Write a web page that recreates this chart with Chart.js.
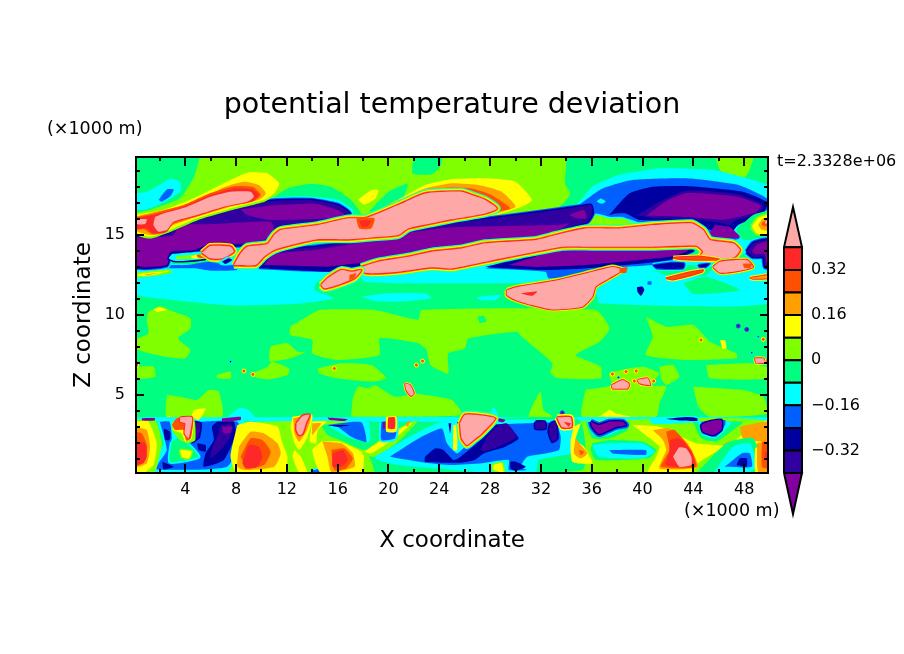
<!DOCTYPE html>
<html>
<head>
<meta charset="utf-8">
<script src="https://cdn.jsdelivr.net/npm/chart.js@4"></script>
<style>
  html, body { margin: 0; background: #fff; }
  canvas { position: absolute; left: 0; top: 0; }
</style>
</head>
<body>
<canvas id="field" width="904" height="654"></canvas>
<canvas id="bar" width="904" height="654"></canvas>
<script>
// axes
var xTickLabels = [4, 8, 12, 16, 20, 24, 28, 32, 36, 40, 44, 48];
var xTickMarks = [2, 4, 6, 8, 10, 12, 14, 16, 18, 20, 22, 24, 26, 28, 30, 32, 34, 36, 38, 40, 42, 44, 46, 48];
var zTickLabels = [5, 10, 15];
var zTickMarks = [1, 2, 3, 4, 5, 6, 7, 8, 9, 10, 11, 12, 13, 14, 15, 16, 17, 18, 19];
var xRange = [0.125, 49.875];
var zRange = [0.125, 19.875];

// colour bar
var levelEdges = [-0.4, -0.32, -0.24, -0.16, -0.08, 0, 0.08, 0.16, 0.24, 0.32, 0.4];
var levelColours = ["#3000a0", "#0000a0", "#0060ff", "#00ffff", "#00ff80", "#80ff00", "#ffff00", "#ffa000", "#ff5000", "#ff2828"];
var barTicks = [0.32, 0.16, 0, -0.16, -0.32];
var barTickLabels = ["0.32", "0.16", "0", "\u22120.16", "\u22120.32"];
var barTips = [0.543, -0.545];

var PINK = "#ffa8a8", RED = "#ff2828", ORR = "#ff5000", ORG = "#ffa000", YEL = "#ffff00", LIM = "#80ff00";
var SPR = "#00ff80", CYA = "#00ffff", BLU = "#0060ff", NAV = "#0000a0", IND = "#3000a0", VIO = "#8000a0";

// contour outlines, [x km, z km]
// upper troposphere, background
var limeTop = [[5.2,20],[4.7,18.64],[3.6,17.3],[1.2,16.56],[0,16.25],[0,15],[32.9,15],[32.9,16.35],[33.9,17.08],[34.3,17.6],[33.9,18.2],[33.8,20]];
var springNotch = [[22,20],[21.9,18.85],[23.4,18.8],[24.1,19.3],[24.2,20]];
var springWedge = [[18.5,16.5],[20,17.7],[21.5,18.2],[21.2,17.4],[20.2,17],[18.65,16.35]];
var yellowBlob = [[17.6,17.2],[18.65,17.8],[19.2,17.8],[19,17.3],[18.1,16.9]];
var springArch = [[10.1,16.87],[12.05,17.9],[13.9,18.2],[15.5,18],[17.05,17.2],[17.85,16.25],[16,15.9],[10.2,15.8]];
var cyanArch = [[10.2,17],[13.1,17.4],[16,17.2],[17.2,16.56],[17.05,16.15],[10.2,15.9]];
var blueArch = [[10.7,17],[13.1,17.33],[16,17.08],[17.05,16.45],[16.8,16.15],[10.7,15.9]];
var cyanCorner = [[0,17.6],[1,17.7],[2.8,18.5],[3.6,18.33],[3.6,17.7],[1.9,16.87],[0.7,16.56],[0,16.66]];
var blueCorner = [[1.9,17.2],[2.55,17.85],[3.1,17.85],[2.8,17.4],[2.15,17.08]];
var limeRightTop = [[45.7,20],[46.1,19.06],[47.4,18.27],[48.3,18.85],[48.7,20]];

// mid troposphere lime patches
var limeA = [[1.1,10.2],[2,10.55],[3.1,10.2],[4.4,9.8],[4.4,9.16],[3.5,8.64],[3.5,8.43],[4.4,7.81],[4,7.3],[2.3,7.4],[0,7.9],[0,8.44],[1.1,8.85],[0.97,9.7]];
var limeB = [[0,6.77],[1.5,6.77],[1.63,6.14],[0,6.04]];
var limeC = [[12.26,9.27],[13.37,9.79],[14.56,10.31],[18.9,10.31],[22.34,9.7],[22.6,10.31],[36.3,10.31],[37.4,9.16],[36.6,8.33],[34.74,7.5],[36.7,6.77],[36.7,6.04],[33.4,6.04],[32.76,6.35],[32.9,6.98],[30.5,8.64],[30.1,8.96],[26.3,8.54],[26,7.91],[24.7,7.6],[24.7,6.35],[23.3,6.87],[23,7.81],[22.34,8.23],[19.3,8.54],[19.3,7.5],[16,7.19],[14,7.6],[14,8.44],[12.26,8.75]];
var limeD = [[10.6,7.19],[10.73,8.02],[12.05,8.23],[12.84,7.7],[13.5,7.7],[12.3,7.29],[10.73,7.08]];
var limeE = [[9.28,6.35],[10.47,6.77],[10.86,7.08],[12.18,6.66],[12.05,6.25],[10.47,5.98],[9.41,6.14]];
var limeF = [[6.5,6.25],[7.57,6.46],[7.57,6.04],[6.5,6.04]];
var limeG = [[14.43,6.66],[16.3,6.98],[18.65,6.87],[19.83,6.04],[18.65,5.83],[16,6.04],[14.56,6.35]];
var limeH = [[2.55,5],[3.6,4.89],[4.93,4.69],[5.85,5.31],[6.64,5.2],[6.9,3.64],[2.55,3.64]];
var limeI = [[17.06,3.64],[17.2,4.79],[17.6,5.52],[18.4,5.41],[18.9,5.62],[20.5,4.89],[22.1,5.1],[22.9,5],[25,4.69],[25.77,3.75]];
var limeJ = [[31,3.64],[31.3,4.27],[31.96,5.2],[32.2,4.06],[32.9,3.64]];
var limeK = [[35.5,5.31],[37.6,5.62],[37.37,6.35],[40,6.77],[41.33,6.35],[40.5,5.62],[41.86,5.52],[41.33,4.48],[41.07,3.64],[35.26,3.64]];
var limeL = [[41.33,6.77],[42.4,6.87],[42.9,6.14],[41.86,5.62],[41.46,6.04]];
var limeM = [[44,5.52],[47.9,5.31],[49.5,4.89],[49.9,3.85],[45.3,3.64],[44.4,4.27]];
var limeN = [[40.27,9.89],[41.86,9.27],[44,9.37],[45.3,8.33],[47.4,7.6],[47.4,7.29],[43.44,7.19],[40.27,7.5],[40.8,8.64]];
var limeO = [[45,6.87],[48.45,6.98],[50,6.66],[50,6.04],[45.3,6.04]];
var springHoleMid = [[27,9.9],[27.5,9.95],[27.7,9.6],[27.2,9.5]];
var yellowDotMid = [[1.5,10.35],[2,10.48],[2.55,10.31],[1.76,10.2]];
var yellowDashMid = [[46.1,8.44],[46.5,8.4],[46.6,7.9],[46.3,7.9]];

// cyan layer under the jets
var cyanLeft = [[0,13.2],[18,13],[17.6,12.4],[15.2,12.4],[14.3,12],[14.2,11.56],[15.7,11.04],[12.85,10.7],[7.57,10.6],[2.3,11],[0,11.35]];
var cyanRight = [[17.6,12.91],[50,13.4],[50,10.73],[36.6,10.73],[36.3,11.35],[34,11.98],[29.5,11.98],[25,11.98],[18.1,12.08]];
var cyanLensA = [[17.86,11.14],[19.7,11.35],[22.9,11.35],[23.4,11.04],[20.76,10.83],[18.9,10.87]];
var cyanLensB = [[26.95,11.14],[28.9,11.25],[28.4,10.94],[27.2,10.94]];
var springLens = [[43.2,11.98],[45,12.39],[47.66,11.56],[44,11.31]];

// cold dome at the top right
var cyanDome = [[33.7,16.14],[34.9,16.98],[36.05,18.02],[38.15,18.75],[41.33,19.16],[45.55,19.06],[48.2,18.54],[50,18.02],[50,16.45],[48.2,16.04],[47.4,15.3],[47.9,14.7],[50,14.8],[50,13.5],[45.5,14.3],[38.2,15.1],[33.7,15.1]];
var blueDome = [[34.07,16.25],[35,16.87],[36.84,17.9],[39.2,18.44],[43.44,18.54],[47.66,18.1],[50,17.19],[50,16.66],[47.9,15.83],[46.87,15.1],[47.66,14.79],[45.8,14.48],[38.2,15.5],[35.5,15.83]];
var cyanSpot = [[36.7,17.3],[37.1,17.1],[36.8,16.95],[36.4,17.1]];
var navyDome = [[37.37,16.25],[38.95,17.6],[40.8,18.02],[43.44,18.06],[47.9,17.7],[49.9,16.98],[49.4,16.25],[47.5,15.62],[46.87,15],[45,15.41],[43.7,15.83],[39.75,15.94],[38.7,16.35],[37.9,16.35]];
var indigoDome = [[39.6,16.25],[41.6,17.19],[43.44,17.77],[47.4,17.56],[49.5,16.87],[49.1,16.35],[47.4,15.94],[46.87,15.62],[46.1,15.77],[43.44,15.98],[40.8,16.04]];
var violetDome = [[40.3,16.2],[41.8,17.1],[43.5,17.62],[47.3,17.42],[49.3,16.85],[48.9,16.4],[47.3,16.08],[46.2,15.95],[43.4,16.12]];
var violetNook = [[45.7,15.62],[46.9,15.48],[47.66,14.85],[45.8,14.79],[45.3,15.1]];
var limeFringe = [[35,15.5],[36.3,16.25],[37.4,16.04],[38.4,16.04],[39.75,15.69],[43.44,15.9],[44.5,15.5],[43.44,14.9],[35.5,14.9]];
var springEdge = [[47.4,15.31],[48.7,16.25],[50,16.45],[50,14.8],[48.2,14.7]];
var yellowEdge = [[48.6,15.52],[49.1,16.04],[50,16.25],[50,15.1],[49,15.1]];
var orangeEdge = [[49.1,15.62],[49.5,16.04],[50,16.04],[50,15.31],[49.4,15.31]];
var redEdge = [[49.4,15.77],[49.9,15.94],[50,15.94],[50,15.5],[49.4,15.62]];
var pinkEdge = [[49.65,15.85],[50,15.95],[50,15.7],[49.65,15.72]];
var indigoEdge = [[48.2,13.95],[48.7,14.48],[50,14.69],[50,13],[49.65,13],[49.5,13.64],[48.7,13.64]];
var violetEdge = [[48.6,13.95],[49,14.4],[50,14.6],[50,13.1],[49.8,13.1],[49.6,13.8],[48.9,13.8]];
var warmEdgeLow = [[48.45,12.32],[49.9,12.5],[50,12.55],[50,12.32],[48.7,12.26]];

// cold band between the jets
var blueLeftSkirt = [[0,13.06],[2.8,13.12],[4.1,13.12],[5.85,13.33],[7.3,13.12],[7.8,13.12],[8.1,12.81],[5.98,12.77],[4.93,12.91],[2.3,12.91],[0,12.91]];
var indigoUpper = [[0,14.93],[1.23,14.89],[2.82,15.1],[3.21,15.56],[5.19,16.04],[8.09,16.77],[10.99,17.14],[13.9,17.18],[16,16.87],[16.93,16.35],[16,16],[12.3,15.56],[11.26,15.31],[10.6,14.69],[8.62,14.37],[5.72,14.37],[4.66,13.96],[2.82,13.85],[2.55,13.12],[0,13.02]];
var violetUpper = [[0,14.85],[1.37,14.85],[3.08,15],[3.6,15.62],[6.2,15.68],[10.73,15.83],[11,15.4],[10.6,14.79],[8.62,14.48],[5.72,14.37],[4.66,14.06],[2.82,13.96],[2.55,13.12],[0,13.12]];
var violetCap = [[8.36,16.6],[11.26,16.87],[14.43,16.94],[16,16.56],[16.54,16.29],[15.5,16.04],[10.73,15.94],[8.88,16.25]];
var indigoMiddle = [[9.8,13.02],[10.86,13.95],[14.43,14.27],[18.12,14.69],[21.55,15.31],[24.98,15.73],[30.25,16.25],[35,16.77],[35.93,16.87],[36.06,16.35],[35.64,15.83],[33.95,15.41],[32.6,14.85],[27.62,14.58],[24.98,14.16],[20.76,13.54],[17.86,13.06],[15.2,12.85],[12.3,12.91]];
var violetMiddle = [[10.2,13.12],[11,13.81],[14.43,14.1],[18.12,14.58],[21.55,15.14],[24.98,15.48],[33.2,15.62],[34.25,15.73],[32.6,15],[27.62,14.64],[24.98,14.23],[20.76,13.64],[17.86,13.19],[15.2,12.91]];
var violetNub = [[34.2,16.25],[35.4,16.56],[35.6,16.04],[34.8,16.04]];
var navyMiddleStrip = [[9.8,12.98],[15.2,12.7],[17.86,12.91],[17.86,13.23],[15.2,13.02],[10.2,13.12]];
var blueLower = [[27.6,12.91],[32.35,12.7],[32.6,12.29],[34.07,12.35],[37.1,12.91],[40.8,13.12],[42.1,13.33],[44.1,13.96],[44,14.27],[38.2,14.27],[33.7,14.27],[30.25,13.64]];
var navyLower = [[27.6,13],[32.1,12.81],[35.5,12.91],[38.7,13.12],[42.1,13.44],[44,13.96],[44,14.27],[38.2,14.23],[33.7,14.16],[30.25,13.48]];
var violetLower = [[29.45,13.12],[33.4,14.06],[36.05,14.16],[40.8,14.2],[43.84,14.31],[43.44,13.96],[42.1,13.64],[35.5,13.12],[31.57,13]];
var springPocket = [[40.8,12.81],[43.44,13.12],[45.55,13],[45,12.5],[41.85,12.5]];
var navyPatchA = [[40.8,13.12],[42.1,13.27],[43.3,13.23],[43.2,12.91],[41.1,12.91]];
var navyPatchB = [[44.36,13.12],[45.3,13.23],[45,13],[44.5,12.98]];
var navySpeck = [[39.56,11.73],[40,11.77],[40.14,11.56],[39.88,11.2],[39.6,11.46]];
var blueSpeck = [[40.4,12.1],[40.7,12.1],[40.7,11.9],[40.4,11.9]];

// warm jets
var yellowTongue = [[0,16.25],[2.29,16.56],[4.93,17.39],[7.04,18.23],[8.88,18.89],[10.47,18.85],[11.4,18.23],[11,17.6],[10.2,17.2],[7.57,16.66],[4.93,16.04],[3.08,15.41],[1.23,14.9],[0,15.2]];
var orangeTongue = [[0,16.14],[2.29,16.56],[4.93,17.08],[7.04,17.98],[8.62,18.33],[9.8,18.12],[10.34,17.6],[9.8,17.2],[7.57,16.77],[4.93,16.14],[3.08,15.62],[2.29,15.1],[1.23,15],[0,15.31]];
var orangeRedTongue = [[0,16.1],[1.5,16.35],[3.87,16.87],[5.98,17.62],[7.83,18.05],[9.35,18],[9.95,17.5],[9.4,17.12],[7.3,16.77],[4.93,16.17],[3.08,15.7],[2.4,15.15],[1.4,15.05],[0.8,15.35],[0,15.35]];
var redTongue = [[0,16.04],[1.5,16.25],[3.87,16.77],[5.98,17.5],[7.83,17.91],[9.28,17.85],[9.8,17.5],[9.28,17.08],[7.3,16.77],[4.93,16.19],[3.08,15.77],[2.55,15.2],[1.5,15.1],[0.97,15.41],[0,15.41]];
var pinkTongue = [[1.63,16.14],[2.29,16.35],[4.14,16.77],[5.98,17.39],[7.57,17.71],[9.15,17.71],[9.41,17.39],[8.88,17.08],[7.04,16.77],[4.93,16.25],[3.08,15.83],[2.55,15.31],[1.89,15.21],[1.5,15.62]];
var pinkTongueEdge = [[0,15.98],[0.97,15.98],[0.84,15.69],[0,15.69]];
var yellowCrest = [[18.9,16.4],[20.76,17.19],[22.9,18.12],[24.97,18.48],[27.6,18.54],[30,18.33],[31.3,17.19],[30.4,16.73],[28.4,16.25],[24.97,15.9],[22,15.6],[19,16]];
var orangeCrest = [[19.7,16.77],[22.9,17.9],[24.97,18.23],[27.1,18.12],[28.9,17.7],[30,16.77],[28.4,16.35],[24.97,16],[20,16.2]];
var orangeRedCrest = [[20.76,16.98],[22.9,17.77],[24.97,17.98],[26.55,17.9],[28.1,17.5],[29.6,16.66],[27.9,16.4],[24.97,16],[22,16.4]];
var pinkRibbonUpper = [[7.83,13.12],[8.36,13.85],[8.88,14.27],[10.47,14.44],[11,15],[11.52,15.31],[14.43,15.62],[16.8,16.04],[18.12,16.04],[18.9,16.25],[20.76,16.87],[22.9,17.6],[25.77,17.71],[26.56,17.5],[27.62,17.19],[28.54,16.66],[27.62,16.35],[24.98,15.98],[23.4,15.73],[21.55,15.41],[20.76,15],[18.65,14.85],[16.8,14.73],[14.43,14.73],[12.3,14.37],[11,14.06],[10.2,13.64],[9.54,13.12]];
var orangeRedKnot = [[17.46,16.04],[18.9,16.04],[18.65,15.41],[17.7,15.41]];
var redKnot = [[17.7,15.9],[18.6,15.9],[18.4,15.55],[17.9,15.5]];
var pinkRibbonLower = [[17.86,13],[19.17,13.33],[21.55,13.64],[23.4,13.96],[25.77,14.16],[27.62,14.48],[31.6,14.69],[33.16,15],[35.5,15.41],[38.2,15.41],[40.8,15.62],[43.85,15.73],[44.77,15.31],[45.3,14.69],[47.14,14.48],[47.67,14.06],[47.27,13.64],[46.1,13.44],[44.5,13.6],[44.77,13.96],[44.24,14.33],[40.8,14.27],[36,14.27],[33.7,14.27],[30.26,13.75],[27.62,13.33],[24.98,12.91],[23.4,12.98],[20.76,12.7],[18.65,12.6],[17.86,12.7]];
var warmStrip = [[42.4,13.58],[44.5,13.66],[46.1,13.46],[44.6,13.45],[42.9,13.5]];
var pinkRightLobe = [[45.55,13],[46.1,13.33],[48.2,13.44],[48.7,13],[47.66,12.77],[46.1,12.64]];
var redRightLobe = [[47.9,13.2],[48.6,13.2],[48.5,12.95],[48,12.95]];
var warmStripLow = [[41.85,12.3],[43.97,12.7],[44.76,12.8],[44.63,12.68],[42.4,12.22]];
var pinkLeftLobe = [[14.7,11.87],[15.2,12.29],[16.3,12.81],[17.1,12.7],[17.86,12.81],[17.3,12.29],[16,11.87],[14.95,11.66]];
var orangeRedLobe = [[16.93,12.5],[17.46,12.6],[17.3,12.29],[16.93,12.19]];
var pinkHanging = [[29.32,11.56],[30.25,11.77],[33.4,12.19],[36.05,12.7],[37.63,13],[38.43,12.81],[37.37,12.29],[36.3,11.77],[36.05,11.14],[35.26,10.52],[32.9,10.35],[31.3,10.62],[30,10.94],[29.32,11.25]];
var redHanging = [[30.4,11.35],[31.7,11.46],[31.3,11.2]];
var orangeRedHanging = [[38.2,12.91],[38.8,13],[38.7,12.64],[38.2,12.64]];
var cyanOval = [[2.95,13.81],[4.27,13.9],[5.3,13.96],[5.6,13.54],[4.14,13.39],[3.08,13.39],[2.7,13.54]];
var limeOval = [[3.3,13.7],[4.5,13.75],[5.4,13.8],[5.5,13.55],[4.2,13.5],[3.3,13.5]];
var yellowOval = [[4.5,13.7],[5.4,13.8],[5.5,13.55],[4.5,13.55]];
var orangeOval = [[4.9,13.75],[5.5,13.8],[5.6,13.55],[5,13.6]];
var pinkLobe = [[5.32,13.89],[5.98,14.31],[7.57,14.27],[7.83,13.96],[6.9,13.54],[5.98,13.54]];
var cyanHole = [[6.64,13.33],[7.3,13.64],[7.83,13.54],[7.57,13.12],[6.77,13.12]];
var navyHole = [[6.9,13.33],[7.43,13.54],[7.7,13.44],[7.17,13.19]];
var limeLeftTail = [[0,12.64],[2.8,12.85],[2.95,12.64],[1.23,12.4],[0,12.35]];
var yellowLeftTail = [[0.3,12.56],[2.7,12.77],[1.5,12.5],[0.3,12.43]];
var orangeLeftTail = [[0.7,12.52],[1.9,12.64],[1,12.48]];

// isolated mid level cells
var pinkCellA = [[21.3,5.73],[21.7,5.62],[22,5.1],[21.76,4.94],[21.4,5.31]];
var pinkCellB = [[37.58,5.62],[38.43,5.94],[38.95,5.69],[38.82,5.41],[37.63,5.41]];
var pinkCellC = [[39.6,5.94],[40.4,6.04],[40.6,5.62],[39.75,5.73]];
var pinkCellD = [[48.85,7.29],[49.5,7.29],[49.64,7.02],[48.93,7.02]];
var pinkCellE = [[49.77,7.19],[50,7.19],[50,6.98],[49.77,6.98]];
var warmSpots = [[8.62,6.5],[9.33,6.29],[15.74,6.66],[22.2,6.87],[22.68,7.12],[0.18,6.87],[37.63,6.31],[38.7,6.46],[39.5,6.5],[39.35,5.87],[40.88,5.87],[44.6,8.44],[49.5,8.48],[36.63,3.52],[2.7,3.54],[3.16,3.08]];
var violetSpots = [[47.53,9.31],[48.2,9.1],[33.68,3.89]];
var blueSpots = [[49.1,8.64],[48.6,7.64],[38.1,6.1],[46.74,3.27],[7.57,7.08]];

// boundary layer
var cyanStrip = [[0,3.6],[50,3.6],[50,3.36],[0,3.36]];
var cyanBumpA = [[7.3,3.6],[8.3,4.2],[8.9,4.1],[9.5,3.6]];
var cyanBumpB = [[27.9,3.64],[28.27,4.27],[28.66,3.64]];
var yellowCapA = [[4.66,4.06],[5.6,4.16],[5.06,3.44],[4.53,3.64]];
var yellowCapB = [[36.6,3.64],[37.4,4.06],[37.9,3.85],[39.2,3.64]];
var limeLowLeft = [[0,3.44],[1.63,3.44],[2.16,1.98],[1.76,0.52],[1.5,0.1],[0,0.1]];
var yellowLowLeft = [[0,3.33],[1.1,3.33],[1.76,1.98],[1.5,0.62],[0.7,0.1],[0,0.1]];
var orangeLowLeft = [[0,3.02],[0.97,2.81],[1.23,1.77],[0.97,0.73],[0,0.5]];
var orangeRedLowLeft = [[0,2.7],[0.6,2.6],[1,1.8],[0.85,0.95],[0,0.6]];
var redLowLeft = [[0,2.08],[0.84,1.98],[0.97,1.14],[0.7,0.73],[0,0.6]];
var cyanBlockA = [[1.76,3.33],[8.62,3.44],[8.5,2.39],[7.7,0.62],[7.3,0.1],[1.5,0.1],[1.63,0.94],[2.3,1.98]];
var blueBlockA = [[2,3.33],[2.76,3.33],[2.95,2.29],[2.8,0.83],[4.14,0.94],[5.06,1.14],[4.66,1.56],[4.14,1.98],[4.66,3.23],[8.1,3.33],[8.36,2.39],[7.3,0.52],[1.76,0.35],[1.9,0.73],[2.55,1.56]];
var springPool = [[2.95,2.08],[3.6,2.39],[4.14,1.98],[4.66,1.56],[5.06,1.14],[4.14,0.94],[2.8,0.83]];
var yellowPool = [[3.6,1.56],[4.5,1.46],[4.27,1.04],[3.74,1.14]];
var limePlume = [[2.95,3.33],[4.66,3.54],[4.8,2.19],[4.27,1.98],[3.6,2.19],[2.95,2.81]];
var yellowPlume = [[3.03,3.23],[4.6,3.54],[4.53,2.29],[4,2.08],[3.74,2.6],[3.08,2.81]];
var orangeRedPlume = [[2.95,3.12],[3.34,3.54],[4.58,3.6],[4.45,2.29],[4.08,2.14],[3.87,2.81],[3.2,2.81]];
var pinkPlume = [[3.6,3.6],[4.53,3.6],[4.27,2.29],[3.95,2.6],[4,3.23],[3.6,3.33]];
var navyBlobA = [[2.3,2.91],[2.82,2.7],[2.76,2.19],[2.42,2.19]];
var navyBlobB = [[2.2,0.83],[3.08,0.52],[2.3,0.35]];
var indigoBlobC = [[4.53,3.33],[5.19,3.23],[5.06,2.39],[4.53,2.08]];
var navyBlobD = [[4.93,1.98],[5.6,1.87],[5.6,1.46],[5.06,1.56]];
var navyBig = [[6.5,3.33],[7.83,3.33],[7.96,2.5],[7.04,0.94],[5.45,0.52],[5.6,1.35],[6.25,2.19],[6.1,3.02]];
var indigoBig = [[6.77,3.12],[7.7,3.12],[7.57,2.39],[6.77,1.56],[5.98,1.04],[6.25,1.98],[6.64,2.6]];
var violetBig = [[6.9,3.02],[7.7,3.02],[7.57,2.64],[7.04,2.6]];
var violetDashA = [[0.6,3.55],[1.6,3.55],[1.6,3.4],[0.6,3.4]];
var violetDashB = [[15.2,3.6],[16.8,3.5],[16.5,3.37],[15.35,3.45]];
var violetDashC = [[6.9,3.54],[8.36,3.64],[8.36,3.44],[6.9,3.33]];
var limeBaseB = [[8.1,3.3],[17,3.3],[18,2],[18.8,0.1],[7.5,0.1],[8.36,2.4]];
var springRingC = [[14.7,3.12],[18.65,3.33],[18.9,2.39],[18.12,1.56],[16.54,2.08],[15.2,2.5]];
var cyanRingC = [[15.2,3.12],[18.4,3.33],[18.5,2.08],[17.06,2.29],[15.74,2.81]];
var blueRingC = [[15.2,3.12],[17.86,3.29],[18.25,2.08],[17.06,2.39],[16,3.02]];
var navyDashC = [[15.2,3.12],[17,3.12],[16,3]];
var yellowWarmB = [[8.1,3.12],[9.15,3.33],[11.26,3.02],[11.65,1.98],[12.05,1.14],[11.8,0.1],[8.1,0.1],[7.57,1.14]];
var orangeWarmB = [[8.23,1.77],[9.15,2.7],[10.2,2.6],[11.26,1.98],[11.52,1.35],[11,0.52],[8.75,0.31],[8.1,0.52]];
var orangeRedWarmB = [[8.36,1.14],[9.15,2.29],[10.07,2.19],[10.73,1.46],[10.2,0.62],[8.88,0.41]];
var redWarmB = [[8.5,0.73],[9,1.87],[9.8,1.77],[10.07,1.14],[9.68,0.52],[8.75,0.41]];
var yellowPlumeC = [[12.45,3.64],[14,3.75],[13.63,2.39],[12.97,1.56],[12.6,1.98],[12.3,3.02]];
var orangePlumeC = [[12.5,3.54],[13.9,3.75],[13.6,2.81],[12.97,2.08],[12.6,2.6]];
var pinkPlumeC = [[12.76,3.23],[13.24,3.69],[13.77,3.75],[13.5,3.23],[13.24,2.6],[12.97,2.5],[12.76,2.81]];
var yellowArch = [[14,3.33],[15.1,3.33],[14.43,2.81],[14.3,1.98],[13.8,2.1]];
var orangeArch = [[14,3.23],[14.7,3.23],[14,2.5]];
var yellowStem = [[12.6,1.56],[13.1,1.14],[13.63,0.1],[13,0.1],[12.45,1.14]];
var blueFoot = [[14,0.3],[14.6,0.35],[15,0.1],[13.9,0.1]];
var yellowWarmC = [[14.7,2.08],[16.14,2.08],[18,1.35],[17.86,0.1],[14.7,0.1],[14,1.56]];
var orangeWarmC = [[14.8,2.08],[16.3,1.98],[17.2,1.35],[17.33,0.52],[15.5,0.2],[15.2,1.14]];
var orangeRedWarmC = [[15.5,1.56],[16.54,1.66],[17.2,1.04],[16.67,0.41],[15.74,0.31]];
var redWarmC = [[15.6,1.35],[16.4,1.56],[16.8,0.94],[16.27,0.52],[15.6,0.52]];
var limeBaseE = [[33.6,3.35],[50,3.35],[50,0],[33.6,0]];
var springBasinD = [[18.12,1.35],[20.5,2.29],[22.08,3.12],[26,3.44],[35,3.44],[35.27,0.31],[27.1,0.1],[20.76,0.35]];
var limeDiagonal = [[17.86,1.31],[20.2,2.7],[22.34,3.44],[20.76,2.08],[18.9,1.14]];
var yellowDiagonal = [[18.12,1.46],[20.5,2.7],[21.95,3.33],[20.5,2.29],[18.65,1.35]];
var orangeDiagonal = [[21.3,3.12],[21.7,3.44],[21.55,3.02]];
var cyanBasinD = [[18.9,1.14],[21,2.08],[22.9,2.91],[24.2,3.33],[26,3.44],[34.2,3.33],[34.74,1.98],[34.35,1.35],[31.84,0.94],[31.57,0.1],[28.67,0.1],[24.7,0.35],[20.76,0.62],[19.18,0.94]];
var blueBasinD = [[20.1,1.14],[22.6,2.39],[24.2,2.91],[24.6,1.98],[25.4,1.35],[26.3,1.98],[27.62,2.6],[28.67,3.12],[31,3.23],[33.16,3.23],[33.56,2.39],[33.42,1.56],[32.37,1.35],[30.92,1.14],[30.4,0.52],[30.92,0.31],[29.47,0.31],[29.47,0.94],[27.35,0.73],[25,0.62],[22.87,0.77],[20.76,1.04]];
var navyBasinD = [[22.87,1.14],[23.66,1.66],[24.32,1.56],[25.1,0.94],[25.5,1.04],[27.08,2.08],[28.27,3.12],[29.2,3.12],[30.25,2.29],[29.2,1.77],[27.5,1.35],[26.8,0.94],[25.76,0.77],[24.45,0.77],[22.87,0.83]];
var indigoBasinD = [[27.2,1.56],[27.87,2.5],[28.66,3.12],[29.32,3.23],[30.1,2.39],[28.93,1.87],[27.6,1.46]];
var navyBlobE = [[29.6,0.83],[30,0.83],[30.8,0.52],[30,0.27],[29.6,0.41]];
var blueStack = [[19.44,3.33],[20.63,3.23],[20.5,2.29],[19.44,2.19]];
var navyStreakA = [[19.57,3.33],[19.83,3.33],[19.83,2.9],[19.57,2.9]];
var yellowStack = [[19.8,3.64],[20.63,3.64],[20.63,2.7],[19.83,2.7]];
var redStack = [[19.97,3.6],[20.5,3.6],[20.5,2.9],[19.97,2.9]];
var navyStreakB = [[24.72,3.23],[24.93,3.23],[24.85,2.6]];
var violetStreak = [[25.4,3.33],[25.65,3.33],[25.55,2.7]];
var yellowStreak = [[25.1,3.12],[25.4,3.12],[25.4,1.56],[25.1,1.56]];
var pinkBasin = [[25.63,3.23],[26,3.75],[26.95,3.75],[28.4,3.54],[27.35,2.6],[26.7,2.19],[26.16,1.87],[25.76,2.29]];
var indigoStubA = [[31.57,3.33],[32.3,3.33],[32.36,2.91],[31.57,2.91]];
var indigoStubB = [[32.75,3.23],[33.15,3.33],[33.28,2.29],[32.9,2.08],[32.62,2.7]];
var violetStub = [[28.66,3.54],[29.2,3.44],[29,3.3],[28.66,3.35]];
var yellowFoot = [[28.27,0.31],[28.27,0.62],[28.93,0.73],[29.06,0.1]];
var pinkPlumeD = [[33.28,3.6],[34.34,3.6],[34.4,3.02],[33.68,2.98]];
var redPlumeD = [[33.8,3.33],[34.34,3.23],[34.2,3.02]];
var yellowStripD = [[34.6,3.02],[35.13,3.23],[34.73,2.19],[35.4,1.77],[36.05,0.73],[34.47,0.83],[34.34,2.19]];
var orangeStripD = [[34.73,2.29],[35.13,1.87],[35.66,1.35],[35.13,1.04],[34.6,1.35]];
var orangeRedStripD = [[35,1.56],[35.4,1.46],[35.13,1.25]];
var springRingE = [[35.5,3.33],[38.95,3.33],[38.82,2.81],[37.37,2.29],[36.05,2.29]];
var cyanRingE = [[35.8,3.33],[38.82,3.33],[38.56,2.98],[37.37,2.5],[36.3,2.43],[35.92,2.81]];
var violetRingE = [[35.92,3.33],[36.58,3.12],[37.37,3.33],[38.43,3.33],[38.7,3.12],[37.9,3],[37.37,2.81],[36.58,2.56],[36.05,3]];
var springLensF = [[36.05,1.98],[37.37,2.19],[40,2.08],[41.07,1.56],[40.5,1.04],[36.3,0.94],[35.92,1.56]];
var cyanLensF = [[36.05,1.87],[37.37,1.98],[40,1.98],[40.93,1.46],[40,1.04],[36.58,1.14]];
var blueLensF = [[37.37,1.56],[40.27,1.56],[40.27,1.25],[37.63,1.35]];
var yellowWarmE = [[39.2,3.12],[41.33,3.02],[43.3,2.29],[44.2,1.98],[46.87,1.87],[48.2,2.81],[50,3.44],[50,2.08],[48.85,1.77],[47.66,1.98],[45.55,1.35],[44,0.52],[44,0.1],[40.4,0.1],[41.07,1.14],[41.33,1.77],[40.4,2.39]];
var orangeWarmE = [[40.8,2.81],[42.1,2.91],[43.44,2.08],[44.36,0.52],[41.33,0.41],[41.86,1.56],[41.6,2.19]];
var orangeRedWarmE = [[41.86,2.7],[42.52,2.81],[43.84,1.56],[44.23,0.52],[41.46,0.52],[42.12,1.56]];
var redWarmE = [[42.12,2.19],[42.9,2.29],[43.84,1.46],[44.1,0.52],[41.86,0.62],[42.12,1.46]];
var pinkWarmE = [[42.4,1.14],[42.9,1.73],[43.44,1.66],[43.84,1.14],[43.84,0.62],[42.9,0.52]];
var orangeLensE = [[46.34,1.87],[47.13,2.29],[46.7,2],[46.34,1.7]];
var orangeEdgeE = [[47.66,3.02],[50,3.33],[50,2.08],[49.4,2.08],[47.9,2.29]];
var yellowEdgeE = [[48.85,1.66],[50,2.2],[50,0],[48.9,0]];
var orangeEdgeF = [[49,2],[50,2],[50,0.1],[49.1,0.2]];
var orangeRedEdgeE = [[49.4,2.08],[50,2.08],[50,0.41],[49.4,0.52]];
var redEdgeE = [[49.64,1.46],[50,1.46],[50,0.94],[49.64,0.94]];
var cyanStripG = [[40.5,3.54],[44.2,3.69],[44.5,3.33],[40.8,3.19]];
var navyStripG = [[41.8,3.5],[43.5,3.62],[44.3,3.55],[44.3,3.38],[43,3.4]];
var springRingG = [[43.97,3.33],[44.63,2.29],[45.8,2.08],[47.13,2.81],[47.9,3.33]];
var cyanRingG = [[44.36,3.33],[44.76,2.5],[45.8,2.29],[46.87,3.12],[47,3.33]];
var blueRingG = [[44.63,3.33],[44.9,2.6],[45.8,2.39],[46.5,3.12],[46.5,3.44]];
var violetRingG = [[45.15,3.33],[46.2,3.44],[46.2,2.81],[45.55,2.5],[44.76,2.7],[44.63,3.12]];
var springCornerG = [[44.23,0.1],[46.6,1.98],[48.7,2.29],[49.5,0.52],[49.24,0.1]];
var cyanCornerG = [[45.55,0.1],[47.13,1.77],[48.45,1.98],[48.98,0.52],[48.2,0.1]];
var blueCornerG = [[46.47,0.52],[47.8,1.35],[48.45,1.35],[48.6,0.52]];
var navyCornerG = [[47.4,0.62],[47.66,1.04],[48.2,1.04],[48.2,0.52]];

var datasets = [];

function outline(points, color, width, tension) {
  var closed = points.concat([points[0]]);
  return {
    data: closed.map(function (p) { return { x: p[0], y: p[1] }; }),
    showLine: true,
    fill: false,
    borderColor: color,
    borderWidth: width,
    borderJoinStyle: "round",
    pointRadius: 0,
    tension: tension,
    clip: 0,
  };
}

function region(points, color, fringe) {
  (fringe || []).forEach(function (f) {
    datasets.push(outline(points, f[1], f[0], 0.18));
  });
  var d = outline(points, color, 0, 0.18);
  d.fill = "shape";
  d.backgroundColor = color;
  datasets.push(d);
}

function spots(points, color, edge, size) {
  datasets.push({
    data: points.map(function (p) { return { x: p[0], y: p[1] }; }),
    showLine: false,
    pointRadius: size,
    pointBackgroundColor: color,
    pointBorderColor: edge,
    pointBorderWidth: 1,
    clip: 0,
  });
}

var hot = [[8, CYA], [6.5, LIM], [5, YEL], [3.5, ORG], [2.2, RED]];
var warm = [[5, LIM], [3.5, YEL], [2.2, RED]];
var cold = [[7, CYA], [5, BLU], [3, NAV]];
var chill = [[4, CYA], [2, BLU]];

// painted from the back to the front
region([[xRange[0], zRange[0]], [xRange[1], zRange[0]], [xRange[1], zRange[1]], [xRange[0], zRange[1]]], SPR);
region(limeTop, LIM);
region(springNotch, SPR);
region(springWedge, SPR);
region(yellowBlob, YEL);
region(cyanCorner, CYA);
region(blueCorner, BLU);
region(limeRightTop, LIM);
[limeA, limeB, limeC, limeD, limeE, limeF, limeG, limeH, limeI, limeJ, limeK, limeL, limeM, limeN, limeO].forEach(function (p) { region(p, LIM); });
region(springHoleMid, SPR);
region(yellowDotMid, YEL);
region(yellowDashMid, YEL);
region(cyanLeft, CYA);
region(cyanRight, CYA);
region(cyanLensA, CYA);
region(cyanLensB, CYA);
region(springLens, SPR);
region(springArch, SPR);
region(cyanArch, CYA);
region(blueArch, BLU);
region(cyanDome, CYA);
region(blueDome, BLU);
region(cyanSpot, CYA);
region(limeFringe, LIM, [[3, CYA]]);
region(navyDome, NAV);
region(indigoDome, IND);
region(violetDome, VIO);
region(violetNook, VIO);
region(springEdge, SPR);
region(yellowEdge, YEL, [[4, LIM]]);
region(orangeEdge, ORG);
region(redEdge, ORR);
region(pinkEdge, PINK);
region(indigoEdge, IND, cold);
region(violetEdge, VIO);
region(blueLeftSkirt, BLU);
region(indigoUpper, IND, cold);
region(violetUpper, VIO);
region(violetCap, VIO);
region(indigoMiddle, IND, [[5, BLU], [3, NAV]]);
region(violetMiddle, VIO);
region(violetNub, VIO);
region(navyMiddleStrip, NAV);
region(blueLower, BLU);
region(navyLower, NAV);
region(violetLower, VIO);
region(springPocket, SPR);
region(navyPatchA, NAV, chill);
region(navyPatchB, NAV, chill);
region(navySpeck, NAV);
region(blueSpeck, BLU);
region(limeLeftTail, LIM);
region(yellowLeftTail, YEL);
region(orangeLeftTail, ORG);
region(yellowTongue, YEL, [[4, LIM]]);
region(orangeTongue, ORG);
region(orangeRedTongue, ORR);
region(redTongue, RED);
region(pinkTongue, PINK);
region(pinkTongueEdge, PINK);
region(yellowCrest, YEL);
region(orangeCrest, ORG);
region(orangeRedCrest, ORR);
region(pinkRibbonUpper, PINK, hot);
region(orangeRedKnot, ORR);
region(redKnot, RED);
region(pinkRibbonLower, PINK, hot);
region(warmStrip, ORR, [[4, YEL], [2, RED]]);
region(pinkRightLobe, PINK, warm);
region(redRightLobe, ORR);
region(warmStripLow, ORR, [[4, YEL], [2, RED]]);
region(warmEdgeLow, ORG, [[4, YEL], [2, RED]]);
region(pinkLeftLobe, PINK, hot);
region(orangeRedLobe, ORR);
region(pinkHanging, PINK, warm);
region(redHanging, RED);
region(orangeRedHanging, ORR);
region(cyanOval, CYA, [[3, NAV]]);
region(limeOval, LIM);
region(yellowOval, YEL);
region(orangeOval, ORR);
region(pinkLobe, PINK, [[6, YEL], [4, ORG], [2.4, RED]]);
region(cyanHole, CYA);
region(navyHole, NAV);
[pinkCellA, pinkCellB, pinkCellC, pinkCellD, pinkCellE].forEach(function (p) { region(p, PINK, [[3.5, YEL], [2, RED]]); });
spots(warmSpots, ORR, YEL, 2);
spots(violetSpots, VIO, BLU, 2);
spots(blueSpots, NAV, CYA, 1.2);

// boundary layer
region(cyanStrip, CYA);
region(cyanBumpA, CYA);
region(cyanBumpB, CYA);
region(yellowCapA, YEL);
region(yellowCapB, YEL);
region(limeBaseB, LIM);
region(limeBaseE, LIM);
region(cyanBlockA, CYA);
region(blueBlockA, BLU);
region(springPool, SPR, [[4, CYA]]);
region(yellowPool, YEL, [[3, LIM]]);
region(limeLowLeft, LIM);
region(yellowLowLeft, YEL);
region(orangeLowLeft, ORG);
region(orangeRedLowLeft, ORR);
region(redLowLeft, RED);
region(navyBlobA, NAV);
region(navyBlobB, NAV);
region(indigoBlobC, IND, [[3, NAV]]);
region(navyBlobD, NAV);
region(navyBig, NAV);
region(indigoBig, IND);
region(violetBig, VIO);
region(limePlume, LIM);
region(yellowPlume, YEL);
region(orangeRedPlume, ORR);
region(pinkPlume, PINK, [[2.4, RED]]);
region(violetDashA, VIO);
region(violetDashB, VIO);
region(violetDashC, VIO);
region(springRingC, SPR);
region(cyanRingC, CYA);
region(blueRingC, BLU);
region(navyDashC, NAV);
region(yellowWarmB, YEL);
region(orangeWarmB, ORG);
region(orangeRedWarmB, ORR);
region(redWarmB, RED);
region(yellowPlumeC, YEL);
region(orangePlumeC, ORG);
region(pinkPlumeC, PINK, [[3, RED]]);
region(yellowArch, YEL);
region(orangeArch, ORG);
region(yellowStem, YEL);
region(blueFoot, BLU, [[3, CYA]]);
region(yellowWarmC, YEL);
region(orangeWarmC, ORG);
region(orangeRedWarmC, ORR);
region(redWarmC, RED);
region(springBasinD, SPR);
region(limeDiagonal, LIM);
region(yellowDiagonal, YEL);
region(orangeDiagonal, ORG);
region(cyanBasinD, CYA);
region(blueBasinD, BLU);
region(navyBasinD, NAV);
region(indigoBasinD, IND);
region(navyBlobE, NAV);
region(yellowFoot, YEL, [[3, LIM]]);
region(blueStack, BLU, [[4, CYA]]);
region(navyStreakA, VIO);
region(yellowStack, YEL);
region(redStack, RED);
region(navyStreakB, NAV);
region(violetStreak, VIO);
region(yellowStreak, YEL);
region(pinkBasin, PINK, hot);
region(indigoStubA, IND, [[3, NAV]]);
region(indigoStubB, IND, [[3, NAV]]);
region(violetStub, VIO);
region(yellowStripD, YEL);
region(orangeStripD, ORG);
region(orangeRedStripD, ORR);
region(pinkPlumeD, PINK, [[6, YEL], [3, RED]]);
region(redPlumeD, RED);
region(springRingE, SPR);
region(cyanRingE, CYA);
region(violetRingE, VIO, [[6, BLU], [3, NAV]]);
region(springLensF, SPR);
region(cyanLensF, CYA);
region(blueLensF, BLU);
region(yellowWarmE, YEL);
region(orangeWarmE, ORG);
region(orangeRedWarmE, ORR);
region(redWarmE, RED);
region(pinkWarmE, PINK);
region(orangeLensE, ORG);
region(orangeEdgeE, ORG);
region(springCornerG, SPR);
region(cyanCornerG, CYA);
region(blueCornerG, BLU);
region(navyCornerG, NAV);
region(yellowEdgeE, YEL);
region(orangeEdgeF, ORG);
region(orangeRedEdgeE, ORR);
region(redEdgeE, RED);
region(cyanStripG, CYA);
region(navyStripG, NAV);
region(springRingG, SPR);
region(cyanRingG, CYA);
region(blueRingG, BLU);
region(violetRingG, VIO, [[3, NAV]]);

// chart.js paints the first dataset last
datasets.reverse();

Chart.defaults.font.family = "'DejaVu Sans'";
Chart.defaults.color = "#000";

var frameAndTicks = {
  id: "frameAndTicks",
  afterDatasetsDraw: function (chart) {
    var a = chart.chartArea, ctx = chart.ctx, sx = chart.scales.x, sy = chart.scales.y;
    ctx.save();
    ctx.strokeStyle = "#000";
    ctx.lineWidth = 2;
    ctx.beginPath();
    xTickMarks.forEach(function (v) {
      var px = Math.round(sx.getPixelForValue(v));
      var len = xTickLabels.indexOf(v) >= 0 ? 9 : 4;
      ctx.moveTo(px, a.top); ctx.lineTo(px, a.top + len);
      ctx.moveTo(px, a.bottom); ctx.lineTo(px, a.bottom - len);
    });
    zTickMarks.forEach(function (v) {
      var py = Math.round(sy.getPixelForValue(v));
      var len = zTickLabels.indexOf(v) >= 0 ? 8 : 4;
      ctx.moveTo(a.left, py); ctx.lineTo(a.left + len, py);
      ctx.moveTo(a.right, py); ctx.lineTo(a.right - len, py);
    });
    ctx.stroke();
    ctx.lineWidth = 2;
    ctx.strokeRect(a.left, a.top, a.right - a.left, a.bottom - a.top);
    ctx.fillStyle = "#000";
    ctx.font = "17.5px 'DejaVu Sans'";
    ctx.textBaseline = "middle";
    ctx.textAlign = "left";
    ctx.fillText("(\u00d71000 m)", 47, 129);
    ctx.fillText("(\u00d71000 m)", 684, 511);
    ctx.font = "16px 'DejaVu Sans'";
    ctx.fillText("t=2.3328e+06", 777, 162);
    ctx.restore();
  },
};

new Chart(document.getElementById("field"), {
  type: "scatter",
  data: { datasets: datasets },
  plugins: [frameAndTicks],
  options: {
    responsive: false,
    animation: false,
    events: [],
    layout: { padding: { left: 70, right: 136, top: 0, bottom: 99 } },
    plugins: {
      legend: { display: false },
      tooltip: { enabled: false },
      title: {
        display: true,
        fullSize: false,
        text: "potential temperature deviation",
        font: { size: 28.5, weight: "normal", lineHeight: 1 },
        padding: { top: 91, bottom: 37.5 },
      },
    },
    scales: {
      x: {
        type: "linear",
        min: xRange[0],
        max: xRange[1],
        afterBuildTicks: function (s) { s.ticks = xTickLabels.map(function (v) { return { value: v }; }); },
        afterFit: function (s) { s.height = 82; },
        grid: { display: false, drawTicks: false },
        border: { display: false },
        ticks: { font: { size: 16 }, padding: 7, maxRotation: 0, autoSkip: false },
        title: { display: true, text: "X coordinate", font: { size: 23 }, padding: 0 },
      },
      y: {
        type: "linear",
        min: zRange[0],
        max: zRange[1],
        afterBuildTicks: function (s) { s.ticks = zTickLabels.map(function (v) { return { value: v }; }); },
        afterFit: function (s) { s.width = 66; },
        grid: { display: false, drawTicks: false },
        border: { display: false },
        ticks: { font: { size: 16 }, padding: 11, autoSkip: false },
        title: { display: true, text: "Z coordinate", font: { size: 23 }, padding: 0 },
      },
    },
  },
});

// colour bar, second chart on top
var barSets = [];
function barPiece(points, color) {
  var closed = points.concat([points[0]]);
  barSets.push({
    data: closed.map(function (p) { return { x: p[0], y: p[1] }; }),
    showLine: true,
    fill: "shape",
    backgroundColor: color,
    borderColor: "#000",
    borderWidth: 2,
    pointRadius: 0,
    clip: false,
  });
}
levelColours.forEach(function (c, i) {
  barPiece([[0, levelEdges[i]], [1, levelEdges[i]], [1, levelEdges[i + 1]], [0, levelEdges[i + 1]]], c);
});
barPiece([[0, levelEdges[10]], [0.5, barTips[0]], [1, levelEdges[10]]], PINK);
barPiece([[0, levelEdges[0]], [0.5, barTips[1]], [1, levelEdges[0]]], VIO);

new Chart(document.getElementById("bar"), {
  type: "scatter",
  data: { datasets: barSets },
  options: {
    responsive: false,
    animation: false,
    events: [],
    layout: { padding: { left: 784, right: 0, top: 207, bottom: 140 } },
    plugins: { legend: { display: false }, tooltip: { enabled: false } },
    scales: {
      x: { type: "linear", min: 0, max: 1, display: false },
      y: {
        type: "linear",
        position: "right",
        min: barTips[1],
        max: barTips[0],
        afterBuildTicks: function (s) { s.ticks = barTicks.map(function (v) { return { value: v }; }); },
        afterFit: function (s) { s.width = 102; },
        grid: { display: false, drawTicks: false },
        border: { display: false },
        ticks: {
          font: { size: 16 },
          padding: 9,
          autoSkip: false,
          callback: function (v) { return barTickLabels[barTicks.indexOf(v)]; },
        },
      },
    },
  },
});
</script>
</body>
</html>
